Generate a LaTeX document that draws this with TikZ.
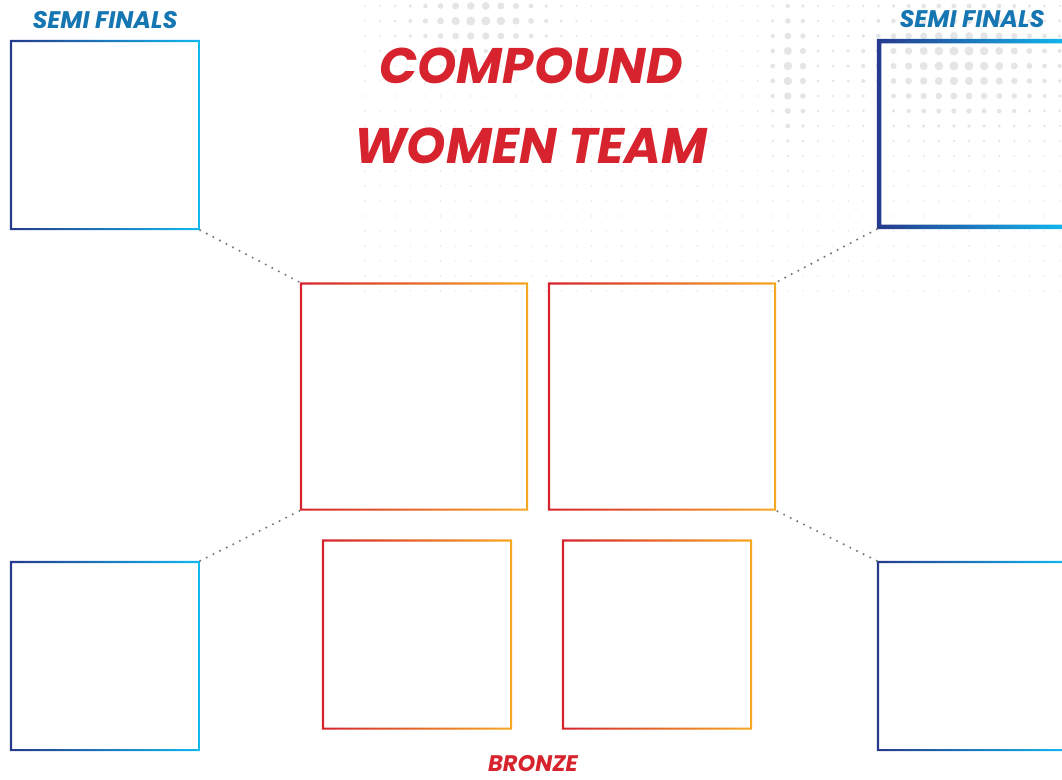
\documentclass[tikz,border=0pt]{standalone}
\usepackage{fontspec}
\setmainfont{Poppins}
\usetikzlibrary{positioning}
\definecolor{semiblue}{RGB}{22,118,178}
\definecolor{darkblue}{RGB}{38,58,140}
\definecolor{lightblue}{RGB}{18,184,238}
\definecolor{titlered}{RGB}{214,35,45}
\definecolor{finalorange}{RGB}{246,168,34}
\definecolor{dotgray}{RGB}{228,229,230}
\definecolor{linkgray}{RGB}{120,120,126}

% gradient frame around a named node: #1 node, #2 left colour, #3 right colour, #4 line width
\newcommand{\gradframe}[4]{%
  \shade[even odd rule, left color=#2, right color=#3]
    (#1.south west) rectangle (#1.north east)
    ([shift={(#4,#4)}]#1.south west) rectangle ([shift={(-#4,-#4)}]#1.north east);}

\begin{document}
\begin{tikzpicture}[x=1pt, y=-1pt,
    slot/.style={rectangle, inner sep=0pt, minimum width=190pt, minimum height=190pt},
    bigslot/.style={slot, minimum width=228pt, minimum height=228pt},
    link/.style={linkgray, line width=2.3pt, line cap=round, dash pattern=on 0pt off 7.4pt},
    stage/.style={font=\fontsize{24}{28}\selectfont\bfseries\itshape, semiblue},
    title/.style={font=\fontsize{50}{60}\selectfont\bfseries\itshape, titlered}]

    \useasboundingbox (0,0) rectangle (1062,779);

    % halftone map in the background
    \foreach \i in {0,...,46} {
      \foreach \j in {0,...,19} {
        \pgfmathsetmacro{\px}{365+15.1*\i}
        \pgfmathsetmacro{\py}{6+15*\j}
        \pgfmathsetmacro{\r}{0.8
          + 3.8*exp(-min(9, ((\px-480)/65)^2 + ((\py-20)/30)^2))
          + 3.4*exp(-min(9, ((\px-790)/20)^2 + ((\py-70)/65)^2))
          + 3.8*exp(-min(9, ((\px-960)/95)^2 + ((\py-60)/60)^2))}
        \fill[dotgray] (\px,\py) circle[radius=\r pt];
      }
    }

    % boxes
    \node[slot] (semiTL) at (105,135) {};
    \node[slot] (semiBL) at (105,656) {};
    \node[slot] (semiTR) at (972,134) {};
    \node[slot] (semiBR) at (972,656) {};
    \node[bigslot] (finalL) at (414,396.5) {};
    \node[bigslot] (finalR) at (662,396.5) {};
    \node[slot] (bronzeL) at (417,634.5) {};
    \node[slot] (bronzeR) at (657,634.5) {};

    \gradframe{semiTL}{darkblue}{lightblue}{2.2pt}
    \gradframe{semiBL}{darkblue}{lightblue}{2.2pt}
    \gradframe{semiTR}{darkblue}{lightblue}{4.5pt}
    \gradframe{semiBR}{darkblue}{lightblue}{2.2pt}
    \gradframe{finalL}{titlered}{finalorange}{2.2pt}
    \gradframe{finalR}{titlered}{finalorange}{2.2pt}
    \gradframe{bronzeL}{titlered}{finalorange}{2.2pt}
    \gradframe{bronzeR}{titlered}{finalorange}{2.2pt}

    % dotted links
    \draw[link] (semiTL.south east) -- (finalL.north west);
    \draw[link] (semiBL.north east) -- (finalL.south west);
    \draw[link] (semiTR.south west) -- (finalR.north east);
    \draw[link] (semiBR.north west) -- (finalR.south east);

    % texts
    \node[title] (heading) at (531,66) {COMPOUND};
    \node[title, below=37pt of heading.south, anchor=north] (subheading) {WOMEN TEAM};
    \node[stage, above=8pt of semiTL] (labelTL) {SEMI FINALS};
    \node[stage, above=8pt of semiTR] (labelTR) {SEMI FINALS};
    \node[stage, titlered, font=\fontsize{22.5}{26}\selectfont\itshape\bfseries] (labelBronze) at (533,764) {BRONZE};
\end{tikzpicture}
\end{document}
